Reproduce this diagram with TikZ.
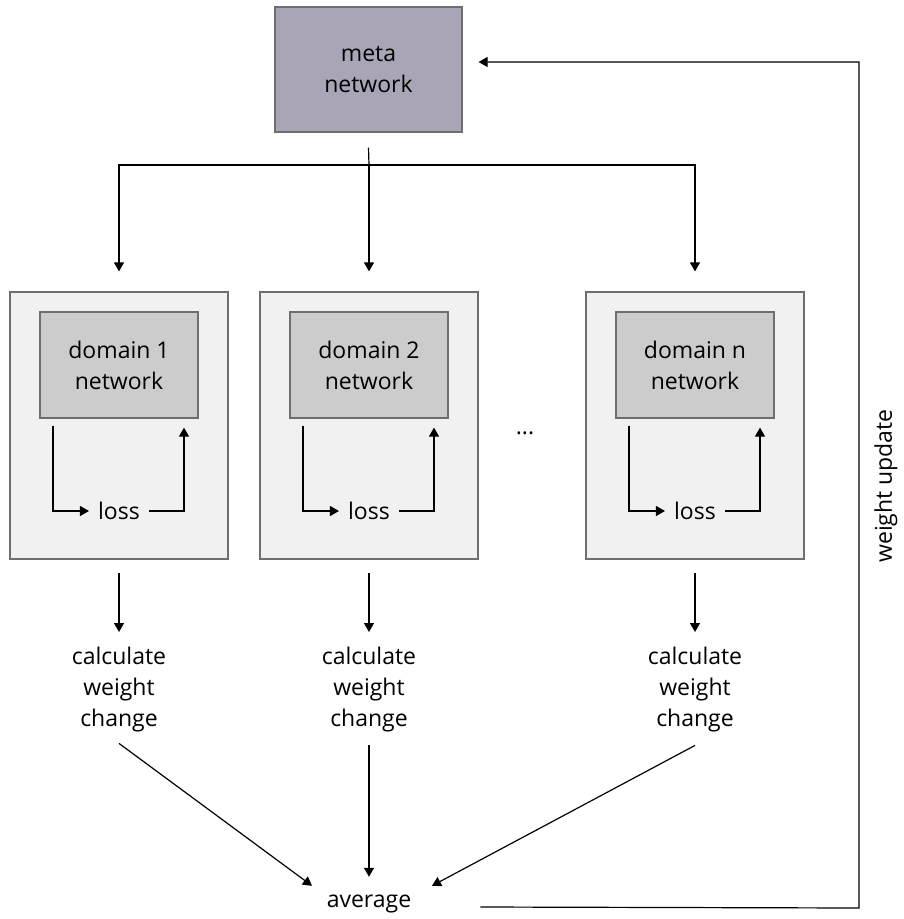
\documentclass[tikz,border=0pt]{standalone}
\usepackage{fontspec}
\setmainfont{Open Sans}
\usetikzlibrary{arrows.meta}
\definecolor{metafill}{HTML}{A9A5B7}
\definecolor{outerfill}{HTML}{F1F1F1}
\definecolor{innerfill}{HTML}{CCCCCC}
\definecolor{boxline}{HTML}{6E6E6E}

\begin{document}
\begin{tikzpicture}[x=1pt,y=-1pt,
  every node/.style={font=\fontsize{23}{31}\selectfont, align=center},
  flow/.style={-{Triangle[length=9pt,width=10pt]}, line width=1.2pt},
  metabox/.style={draw=boxline, fill=metafill, line width=1.2pt, minimum width=187pt, minimum height=125pt},
  domainbox/.style={draw=boxline, fill=outerfill, line width=1.2pt, minimum width=218pt, minimum height=267pt},
  netbox/.style={draw=boxline, fill=innerfill, line width=1.2pt, minimum width=158pt, minimum height=106pt}]
 \useasboundingbox (0,0) rectangle (903,919);

 \node[metabox] (meta) at (368.5,69.5) {meta\\network};
 \coordinate (split) at (369,165);
 \draw[line width=1.2pt] ([yshift=-15pt]meta.south) -- (split);

 \foreach \i/\x in {1/119, 2/369, n/695} {
   \node[domainbox] (b\i) at (\x,425.5) {};
   \node[netbox] (d\i) at (\x,365) {domain \i\\network};
   \node[inner sep=9pt] (l\i) at (\x,511) {loss};
   \node[anchor=north, inner sep=0pt] (c\i) at (\x,647) {calculate\\weight\\change};
   \draw[flow] (split) -| ([yshift=20pt]b\i.north);
   \draw[flow] ([xshift=-66pt,yshift=-7pt]d\i.south) |- (l\i.west);
   \draw[flow] (l\i.east) -| ([xshift=65pt,yshift=-9pt]d\i.south);
   \draw[flow] ([yshift=-13pt]b\i.south) -- ([yshift=15pt]c\i.north);
 }

 \node (dots) at (525,433) {...};
 \node[anchor=base, inner sep=0pt, text height=30pt] (avg) at (369,907) {average};
 \draw[flow] ([yshift=-11pt]c1.south) -- ([xshift=-57pt,yshift=-9pt]avg.north);
 \draw[flow] ([yshift=-13pt]c2.south) -- (avg.north);
 \draw[flow] ([yshift=-13pt]cn.south) -- ([xshift=63pt,yshift=-9pt]avg.north);

 \coordinate (turn) at (859,908);
 \draw[flow] ([xshift=69pt]avg.base east) -- (turn) |- ([xshift=16pt,yshift=7.5pt]meta.east);
 \node[rotate=90] (wu) at (886,486) {weight update};
\end{tikzpicture}
\end{document}
